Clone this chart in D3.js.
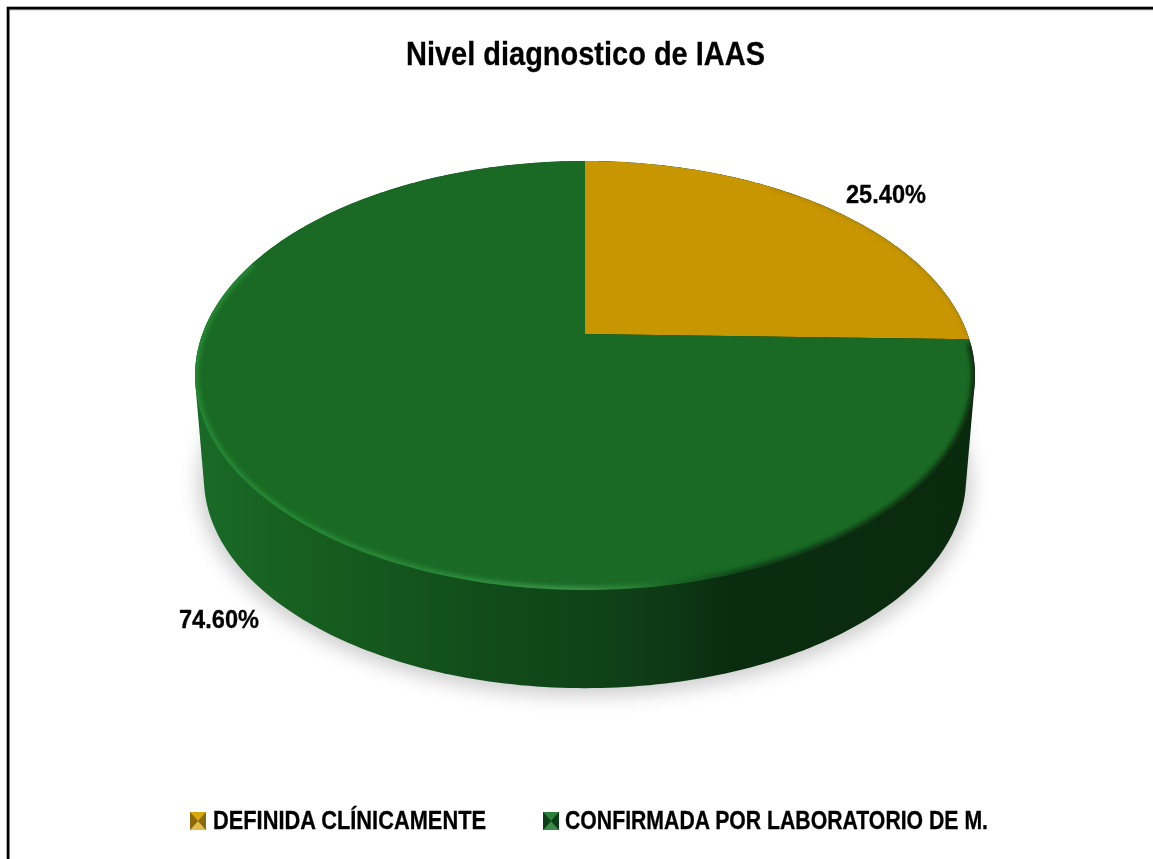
<!DOCTYPE html>
<html><head><meta charset="utf-8">
<script src="https://cdn.jsdelivr.net/npm/d3@7/dist/d3.min.js"></script>
<style>html,body{margin:0;padding:0;background:#fff}svg{display:block}</style>
</head><body><svg id="c" width="1153" height="859"></svg>
<script>
const categories = ["DEFINIDA CLÍNICAMENTE", "CONFIRMADA POR LABORATORIO DE M."];
const values = [25.40, 74.60];
const valueLabels = ["25.40%", "74.60%"];
const colors = ["#c89600", "#1a6a25"];
const chartTitle = "Nivel diagnostico de IAAS";

const W = 1153, H = 859, FONT = '"Liberation Sans","Arimo",sans-serif';
const svg = d3.select("#c");
const defs = svg.append("defs");

// Perspective projection of the pie disk
const cx = 585, persp = -0.1935, yA = 206.5, yB = 334, R = 382.6;
function proj(theta, r = 1, dy = 0, k = 1) {
  const u = r * Math.sin(theta), v = -r * Math.cos(theta), d = 1 + persp * v;
  return [cx + k * R * u / d, yB + dy + k * (yA * v) / d];
}
const line = d3.line();
const full = d3.range(0, 361, 1).map(a => a * Math.PI / 180);
const ring = (dy, k) => full.map(t => proj(t, 1, dy, k));
const topRing = ring(0, 1);
const botRing = ring(104, 0.977);
const topPath = line(topRing) + "Z";

// Side gradient
const sg = defs.append("linearGradient").attr("id", "side").attr("gradientUnits", "userSpaceOnUse")
  .attr("x1", 200).attr("x2", 970).attr("y1", 0).attr("y2", 0);
[[0, "#1a6a27"], [.12, "#176020"], [.26, "#14551d"], [.4, "#104a1a"], [.52, "#0f4217"], [.62, "#0d3815"], [.68, "#0a2d10"], [1, "#0a2a0e"]]
  .forEach(s => sg.append("stop").attr("offset", s[0]).attr("stop-color", s[1]));
// Bevel gradient
const bg = defs.append("linearGradient").attr("id", "bevel").attr("gradientUnits", "userSpaceOnUse")
  .attr("x1", 195).attr("x2", 975).attr("y1", 0).attr("y2", 0);
[[0, "#258a35"], [.3, "#2a8a38"], [.48, "#3a9648"], [.56, "#2c8238"], [.62, "#186024"], [.72, "#0d3a14"], [1, "#0a2a0e"]]
  .forEach(s => bg.append("stop").attr("offset", s[0]).attr("stop-color", s[1]));
defs.append("filter").attr("id", "blurS").attr("x", "-20%").attr("y", "-20%").attr("width", "140%").attr("height", "140%")
  .append("feGaussianBlur").attr("stdDeviation", 10);
defs.append("filter").attr("id", "blurB").attr("x", "-5%").attr("y", "-5%").attr("width", "110%").attr("height", "110%")
  .append("feGaussianBlur").attr("stdDeviation", 2);
defs.append("filter").attr("id", "soft").append("feGaussianBlur").attr("stdDeviation", .5);
defs.append("clipPath").attr("id", "topClip").append("path").attr("d", topPath);

svg.append("rect").attr("width", W).attr("height", H).attr("fill", "#fff");
svg.append("rect").attr("x", 9).attr("y", 9.5).attr("width", W + 20).attr("height", H + 20)
  .attr("fill", "none").attr("stroke", "#999").attr("stroke-width", 1.5);
svg.append("rect").attr("x", 8).attr("y", 8).attr("width", W + 20).attr("height", H + 20)
  .attr("fill", "none").attr("stroke", "#000").attr("stroke-width", 2.6);

function narrowText(t, x, y, width, size) {
  return svg.append("text").attr("x", x).attr("y", y).attr("textLength", width).attr("lengthAdjust", "spacingAndGlyphs")
    .attr("font-family", FONT).attr("font-weight", 700).attr("font-size", size).attr("fill", "#000")
    .attr("stroke", "#000").attr("stroke-width", .3)
    .attr("filter", "url(#soft)").text(t);
}

// Title
narrowText(chartTitle, 406, 65, 359, 34);

// Shadow
svg.append("path").attr("d", line(ring(108, 0.99)) + "Z").attr("fill", "#000").attr("opacity", .2)
  .attr("filter", "url(#blurS)");

// Side wall: the hull between top ring and bottom ring
svg.append("path").attr("d", line(d3.polygonHull(topRing.concat(botRing))) + "Z").attr("fill", "url(#side)");

// Slices
const arcs = d3.pie().sort(null).value(d => d)(values);
const g = svg.append("g").attr("clip-path", "url(#topClip)");
arcs.forEach((a, i) => {
  const steps = d3.range(a.startAngle, a.endAngle, 0.005).concat([a.endAngle]);
  const pts = [proj(0, 0)].concat(steps.map(t => proj(t)));
  g.append("path").attr("d", line(pts) + "Z").attr("fill", colors[i]);
});
// Bevel highlights
const lower = d3.range(arcs[1].startAngle + .02, Math.PI * 1.62, 0.01).map(t => proj(t));
g.append("path").attr("d", line(lower)).attr("fill", "none").attr("stroke", "url(#bevel)")
  .attr("stroke-width", 7).attr("filter", "url(#blurB)");
const upper = d3.range(arcs[0].startAngle + .6, arcs[0].endAngle - .01, 0.01).map(t => proj(t));
g.append("path").attr("d", line(upper)).attr("fill", "none").attr("stroke", "#8a6a00").attr("stroke-width", 2)
  .attr("filter", "url(#blurB)").attr("opacity", .6);

// Value labels
const labelPos = [[846, 203], [179, 628]];
valueLabels.forEach((t, i) => narrowText(t, labelPos[i][0], labelPos[i][1], 80, 25));

// Legend
const legendX = [190, 543], legendText = [213, 565], legendW = [273, 423];
const edges = [["#d8a810", "#e0bc50", "#8a6a08"], ["#2a8038", "#3a8a48", "#0c3c14"]];
categories.forEach((c, i) => {
  const x = legendX[i], y = 812, s = 16, h = 18, m = svg.append("g").attr("filter", "url(#soft)");
  m.append("rect").attr("x", x).attr("y", y).attr("width", s).attr("height", h).attr("fill", colors[i]);
  m.append("path").attr("d", line([[x, y], [x + s, y], [x + s / 2, y + h / 2]]) + "Z").attr("fill", edges[i][0]);
  m.append("path").attr("d", line([[x, y + h], [x + s, y + h], [x + s / 2, y + h / 2]]) + "Z").attr("fill", edges[i][1]);
  m.append("path").attr("d", line([[x, y], [x, y + h], [x + s / 2, y + h / 2]]) + "Z").attr("fill", edges[i][2]);
  m.append("path").attr("d", line([[x + s, y], [x + s, y + h], [x + s / 2, y + h / 2]]) + "Z").attr("fill", edges[i][2]);
  narrowText(c, legendText[i], 829, legendW[i], 25);
});
</script></body></html>
